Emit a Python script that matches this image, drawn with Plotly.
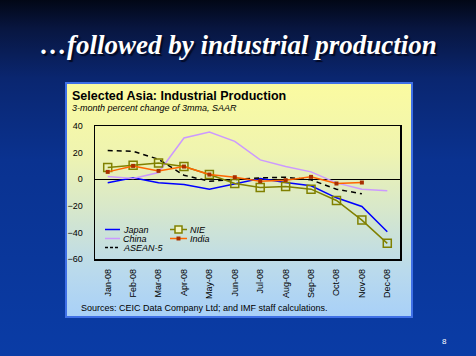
import base64
import plotly.graph_objects as go

# ---------------- data ----------------
months = ["Jan-08", "Feb-08", "Mar-08", "Apr-08", "May-08", "Jun-08",
          "Jul-08", "Aug-08", "Sep-08", "Oct-08", "Nov-08", "Dec-08"]
japan = [-2.75, 1.0, -2.75, -4.0, -7.5, -3.5, 0.5, -2.5, -5.0, -14.0, -20.5, -39.5]
china = [2.0, 0.5, 5.0, 31.0, 35.5, 28.5, 14.5, 9.5, 5.5, -2.75, -7.5, -8.75]
asean5 = [21.5, 21.0, 15.0, 3.0, -1.5, 0.0, 1.0, 1.5, -0.5, -7.5, -11.0]
nie = [8.75, 10.5, 12.25, 9.5, 3.5, -3.25, -6.25, -5.5, -7.5, -16.0, -30.75, -48.25]
india = [5.5, 10.0, 6.25, 9.5, 3.5, 1.5, -1.5, -0.75, 1.75, -3.25, -2.5]
y_ticks = [40, 20, 0, -20, -40, -60]

slide_title = "\u2026followed by industrial production"
chart_title = "Selected Asia: Industrial Production"
chart_subtitle = "3-month percent change of 3mma, SAAR"
source_note = "Sources: CEIC Data Company Ltd; and IMF staff calculations."
page_no = "8"

# ---------------- layout helpers ----------------
W, H = 476, 356
PL, PR, PT, PB = 95, 400, 126, 259   # plot area in pixels


def px(x):
    return (x - PL) / (PR - PL)


def py(y):
    return (PB - y) / (PB - PT)


def grad_svg(stops, w, h):
    st = "".join(f'<stop offset="{o}" stop-color="{c}"/>' for o, c in stops)
    svg = (f'<svg xmlns="http://www.w3.org/2000/svg" width="{w}" height="{h}" '
           f'viewBox="0 0 {w} {h}" preserveAspectRatio="none">'
           f'<defs><linearGradient id="g" x1="0" y1="0" x2="0" y2="1">{st}</linearGradient></defs>'
           f'<rect x="0" y="0" width="{w}" height="{h}" fill="url(#g)"/></svg>')
    return "data:image/svg+xml;base64," + base64.b64encode(svg.encode()).decode()


slide_bg = grad_svg([(0, "#020716"), (0.08, "#081640"), (0.22, "#0a2670"),
                     (0.45, "#0a3290"), (1, "#0a3ca6")], W, H)
BX0, BY0, BX1, BY1 = 66, 83, 412, 317
box_bg = grad_svg([(0, "#fbfba0"), (0.3, "#eff4b0"), (0.55, "#d6e7cc"),
                   (0.8, "#badaec"), (1, "#a8d0f8")], BX1 - BX0, BY1 - BY0)

SANS = "Liberation Sans, Arial, sans-serif"
SERIF = "Liberation Serif, Times New Roman, serif"

styles = {
    "Japan": dict(color="#0000ff", dash="solid", symbol=None),
    "China": dict(color="#cc99ff", dash="solid", symbol=None),
    "ASEAN-5": dict(color="#000000", dash="5px,4px", symbol=None),
    "NIE": dict(color="#808000", dash="solid", symbol="square-open"),
    "India": dict(color="#ff6600", dash="solid", symbol="square"),
}
series = [("Japan", japan), ("China", china), ("ASEAN-5", asean5),
          ("NIE", nie), ("India", india)]

fig = go.Figure()
for name, vals in series:
    st = styles[name]
    kw = dict(mode="lines")
    if st["symbol"] == "square-open":
        kw = dict(mode="lines+markers",
                  marker=dict(symbol="square-open", size=8, color=st["color"],
                              line=dict(width=1.5, color=st["color"])))
    elif st["symbol"] == "square":
        kw = dict(mode="lines+markers",
                  marker=dict(symbol="square", size=4, color="#a83000"))
    fig.add_trace(go.Scatter(x=months[:len(vals)], y=vals, name=name,
                             line=dict(color=st["color"], width=1.5, dash=st["dash"]),
                             showlegend=False, **kw))

# ---------------- manual legend (compact rows) ----------------
shapes = []
annotations = []
legend_pos = {
    "Japan": (105, 120, 229.5), "China": (105, 120, 238.5), "ASEAN-5": (105, 120, 247.5),
    "NIE": (170, 187, 229.5), "India": (170, 187, 238.5),
}
for name, _ in series:
    x0, x1, yy = legend_pos[name]
    st = styles[name]
    shapes.append(dict(type="line", xref="paper", yref="paper",
                       x0=px(x0), x1=px(x1), y0=py(yy), y1=py(yy),
                       line=dict(color=st["color"], width=1.5,
                                 dash="3px,2px" if name == "ASEAN-5" else "solid")))
    xm = (x0 + x1) / 2
    if st["symbol"] == "square-open":
        shapes.append(dict(type="rect", xref="paper", yref="paper",
                           x0=px(xm - 3.5), x1=px(xm + 3.5), y0=py(yy - 3.5), y1=py(yy + 3.5),
                           line=dict(color=st["color"], width=1.5), fillcolor="#f4f6c0"))
    elif st["symbol"] == "square":
        shapes.append(dict(type="rect", xref="paper", yref="paper",
                           x0=px(xm - 2), x1=px(xm + 2), y0=py(yy - 2), y1=py(yy + 2),
                           line=dict(width=0), fillcolor="#a83000"))
    annotations.append(dict(text=name, xref="paper", yref="paper",
                            x=px(x1 + 2), y=py(yy), xanchor="left", yanchor="middle",
                            showarrow=False, borderpad=0,
                            font=dict(family=SANS, size=9, style="italic", color="black")))

# chart box border
shapes.insert(0, dict(type="rect", xref="paper", yref="paper", layer="below",
                      x0=px(BX0), x1=px(BX1), y0=py(BY0), y1=py(BY1),
                      line=dict(color="#3f70e6", width=2), fillcolor="rgba(0,0,0,0)"))

# texts
annotations += [
    dict(text=slide_title, xref="paper", yref="paper",
         x=px(238), y=py(45), xanchor="center", yanchor="middle", showarrow=False,
         font=dict(family=SERIF, size=27, weight="bold", style="italic", color="white",
                   shadow="2px 2px 1px #030a24")),
    dict(text=f"<b>{chart_title}</b>", xref="paper", yref="paper",
         x=px(70), y=py(96), xanchor="left", yanchor="middle", showarrow=False,
         font=dict(family=SANS, size=12.5, color="black")),
    dict(text=f"<i>{chart_subtitle}</i>", xref="paper", yref="paper",
         x=px(70), y=py(108), xanchor="left", yanchor="middle", showarrow=False,
         font=dict(family=SANS, size=9, color="black")),
    dict(text=source_note, xref="paper", yref="paper",
         x=px(79), y=py(308), xanchor="left", yanchor="middle", showarrow=False,
         font=dict(family=SANS, size=9, color="black")),
    dict(text=page_no, xref="paper", yref="paper",
         x=px(444), y=py(341), xanchor="center", yanchor="middle", showarrow=False,
         font=dict(family=SANS, size=8, color="white")),
]

fig.update_layout(
    width=W, height=H,
    margin=dict(l=PL, r=W - PR, t=PT, b=H - PB, pad=0),
    paper_bgcolor="#0a2e84",
    plot_bgcolor="rgba(0,0,0,0)",
    showlegend=False,
    hovermode=False,
    images=[
        dict(source=slide_bg, xref="paper", yref="paper", x=px(0), y=py(0),
             sizex=W / (PR - PL), sizey=H / (PB - PT), sizing="stretch",
             xanchor="left", yanchor="top", layer="below"),
        dict(source=box_bg, xref="paper", yref="paper", x=px(BX0), y=py(BY0),
             sizex=(BX1 - BX0) / (PR - PL), sizey=(BY1 - BY0) / (PB - PT),
             sizing="stretch", xanchor="left", yanchor="top", layer="below"),
    ],
    shapes=shapes,
    annotations=annotations,
    xaxis=dict(type="category", categoryorder="array", categoryarray=months,
               range=[-0.5, len(months) - 0.5], showgrid=False, zeroline=False,
               showline=True, mirror=True, linecolor="black", linewidth=1.5,
               ticks="", tickangle=-90, ticklabelstandoff=5,
               tickfont=dict(family=SANS, size=9, color="black")),
    xaxis2=dict(overlaying="x", anchor="free", position=60 / 100, side="bottom",
                range=[-0.5, len(months) - 0.5], tickmode="linear", tick0=-0.5, dtick=1,
                showgrid=False, zeroline=False, showline=True, linecolor="black",
                linewidth=1, ticks="inside", ticklen=4, tickcolor="black",
                showticklabels=False),
    yaxis=dict(range=[-60, 40], tickvals=y_ticks, showgrid=False,
               zeroline=True, zerolinecolor="black", zerolinewidth=1,
               showline=True, mirror=True, linecolor="black", linewidth=1.5,
               ticks="", ticklabelstandoff=9,
               tickfont=dict(family=SANS, size=9, color="black")),
)

fig.write_html("out.html",
               config={"displayModeBar": False, "staticPlot": True},
               post_script="document.body.style.margin='0';document.body.style.padding='0';"
                           "document.body.style.overflow='hidden';")
